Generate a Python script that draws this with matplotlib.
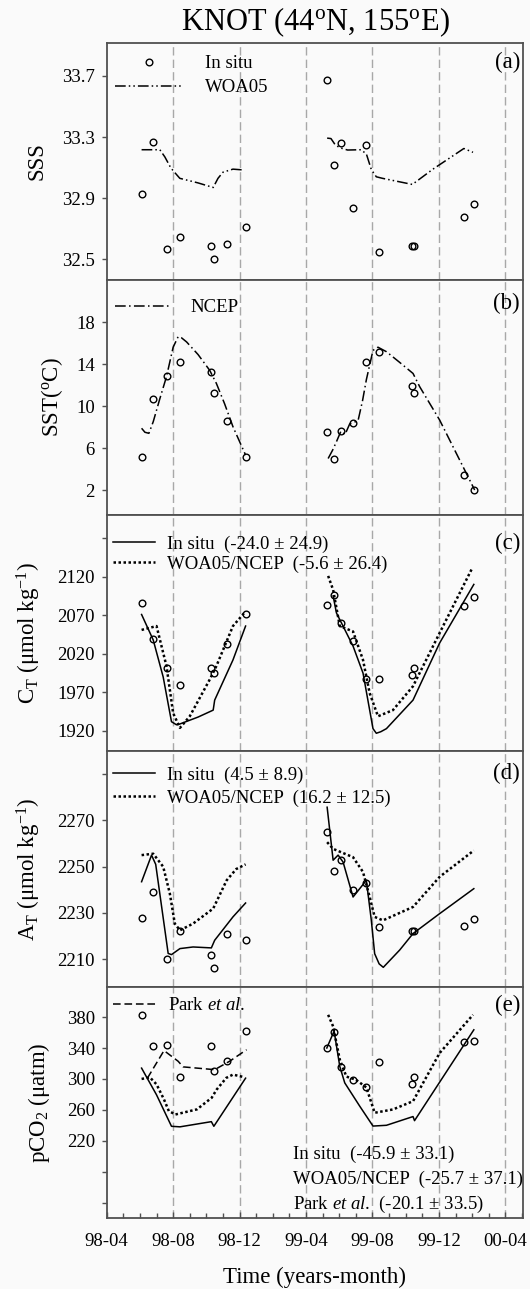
import numpy as np
import matplotlib
matplotlib.use('Agg')
import matplotlib.pyplot as plt
from matplotlib.lines import Line2D

plt.rcParams['font.family'] = ['Liberation Serif', 'DejaVu Serif']
plt.rcParams['mathtext.fontset'] = 'custom'
plt.rcParams['mathtext.rm'] = 'Liberation Serif'
plt.rcParams['mathtext.it'] = 'Liberation Serif:italic'
plt.rcParams['mathtext.bf'] = 'Liberation Serif:bold'

nan = np.nan
# time in months counted from 1998-01 (so 98-04 = 3)
month_ticks = [3, 7, 11, 15, 19, 23, 27]
month_labels = ['98-04', '98-08', '98-12', '99-04', '99-08', '99-12', '00-04']
guide_months = [7, 11, 15, 19, 23, 27]

# sampling dates of the in situ data
t_obs = [5.10, 5.80, 6.65, 7.41, 9.25, 9.43, 10.22, 11.36,
         16.25, 16.69, 17.10, 17.83, 18.63, 19.39, 21.36, 21.52, 24.50, 25.10]

# (a) SSS
sss_obs = [32.93, 33.27, 32.57, 32.645, 32.59, 32.50, 32.60, 32.71,
           33.67, 33.12, 33.26, 32.835, 33.25, 32.55, 32.59, 32.59, 32.78, 32.865]
sss_woa_t = [5.1, 6.2, 6.5, 6.85, 7.0, 7.4, 8.5, 9.41, 9.7, 10.0, 10.6, 11.2, nan,
             16.27, 16.5, 16.75, 17.03, 17.5, 18.3, 18.63, 18.93, 19.23, 19.6, 21.4, 22.64, 24.5, 25.05]
sss_woa = [33.217, 33.217, 33.17, 33.10, 33.08, 33.03, 33.00, 32.97, 33.03, 33.07, 33.09, 33.085, nan,
           33.293, 33.29, 33.25, 33.23, 33.215, 33.217, 33.19, 33.087, 33.04, 33.03, 32.99, 33.09, 33.225, 33.20]

# (b) SST
sst_obs = [5.17, 10.67, 12.86, 14.16, 13.2, 11.2, 8.6, 5.17,
           7.5, 4.95, 7.6, 8.4, 14.16, 15.1, 11.88, 11.24, 3.4, 2.0]
sst_ncep_t = [5.1, 5.3, 5.54, 5.8, 6.2, 6.6, 7.0, 7.3, 7.5, 7.81, 8.5, 9.2, 9.6, 10.1, 10.6, 11.36, nan,
              16.33, 16.6, 16.83, 17.1, 17.35, 17.63, 18.13, 18.4, 18.63, 19.03, 19.33, 19.84, 20.6,
              21.44, 21.84, 23.04, 24.55, 25.15]
sst_ncep = [7.88, 7.5, 7.4, 8.5, 10.7, 12.8, 15.6, 16.6, 16.5, 16.1, 14.9, 13.4, 12.16, 10.2, 8.03, 5.33, nan,
            5.0, 5.8, 6.6, 7.6, 7.3, 8.3, 8.6, 10.5, 12.5, 15.3, 15.6, 15.17, 14.2,
            13.1, 11.84, 8.67, 3.9, 2.0]

# (c) CT
ct_obs = [2086, 2039, 2002, 1980, 2002, 1995, 2033, 2071,
          2083, 2096, 2060, 2036, 1987, 1987, 1993, 2002, 2082, 2094]
ct_insitu_t = [5.1, 5.8, 6.4, 6.9, 7.2, 7.4, 8.5, 9.41, 9.5, 10.6, 11.36, nan,
               16.63, 16.83, 17.83, 18.43, 18.83, 19.03, 19.23, 19.5, 19.84, 21.44, 23.04, 25.1]
ct_insitu = [2071, 2038, 1990, 1932, 1928, 1929, 1938, 1947, 1960, 2012, 2056, nan,
             2095, 2073, 2030, 1995, 1947, 1923, 1917, 1919, 1923, 1960, 2034, 2110]
ct_woa_t = [5.1, 6.0, 6.6, 7.0, 7.41, 8.0, 9.21, 9.6, 10.6, 11.36, nan,
            16.33, 16.63, 17.03, 17.83, 18.43, 18.83, 19.33, 20.23, 21.44, 23.04, 25.0]
ct_woa = [2051, 2056, 2004, 1943, 1924, 1939, 1987, 2004, 2056, 2075, nan,
          2121, 2103, 2056, 2049, 2012, 1969, 1939, 1947, 1978, 2047, 2131]

# (d) AT
at_obs = [2228, 2239, 2210, 2222, 2212, 2206, 2221, 2218.5,
          2265, 2248, 2253, 2240, 2243, 2224, 2222, 2222, 2224.5, 2227.5]
at_insitu_t = [5.1, 5.7, 5.95, 6.7, 6.9, 7.41, 8.2, 9.3, 9.5, 10.6, 11.36, nan,
               16.27, 16.63, 16.93, 17.23, 17.83, 18.63, 18.93, 19.13, 19.4, 19.65, 20.64, 21.44, 23.04, 25.1]
at_insitu = [2243.5, 2255, 2251, 2212.5, 2212, 2214.6, 2215.3, 2214.9, 2218.2, 2228.3, 2234.3, nan,
             2275.7, 2252.8, 2255, 2252, 2236.9, 2244.1, 2226.8, 2212.4, 2208, 2206.5, 2214, 2221.1, 2229.7, 2240.5]
at_woa_t = [5.1, 5.8, 6.4, 6.8, 7.1, 7.41, 8.2, 9.41, 10.22, 10.8, 11.36, nan,
            16.27, 16.63, 17.83, 18.43, 18.83, 19.13, 19.63, 21.44, 23.04, 25.1]
at_woa = [2255, 2255.6, 2250, 2238.4, 2225.4, 2222.5, 2225.4, 2231.9, 2244.1, 2249, 2251, nan,
          2260.6, 2257.7, 2254.1, 2247.7, 2236.9, 2228.3, 2226.8, 2232.6, 2245.6, 2257]

# (e) pCO2
pco2_obs = [383, 342, 343.5, 302, 342, 310, 323, 362.5,
            340, 361, 315.5, 299, 290, 322, 293.5, 302.5, 348, 349.5]
pco2_insitu_t = [5.1, 6.0, 6.9, 7.41, 9.3, 9.45, 11.36, nan,
                 16.25, 16.69, 17.03, 17.33, 18.23, 19.03, 19.84, 21.44, 21.53, 25.1]
pco2_insitu = [314, 279.4, 238.7, 238, 244.7, 238.7, 301, nan,
               340, 362, 316.3, 294.9, 264.8, 239, 240, 251.3, 246, 363.6]
pco2_woa_t = [5.1, 5.6, 6.0, 6.45, 6.74, 7.14, 8.43, 9.32, 9.61, 10.2, 10.6, 11.2, nan,
              16.33, 16.63, 17.03, 17.43, 18.0, 18.63, 19.13, 20.23, 21.44, 23.04, 25.05]
pco2_woa = [300, 302, 293, 273.4, 258.4, 254, 260.6, 275.6, 286, 301.4, 305.6, 302.7, nan,
            383, 368, 325, 303, 299, 289, 256.2, 260.5, 271.2, 333.5, 383]
pco2_park_t = [5.45, 6.45, 7.3, 7.6, 9.5, 10.4, 11.42]
pco2_park = [301, 336.7, 322.9, 315.6, 312, 322.9, 337.8]

# line styles
woa_ls = (0, (7, 2, 1, 2, 1, 2))
ncep_ls = (0, (7, 2.2, 1, 2.2))
dot_ls = (0, (1, 1))
park_ls = (0, (5, 2.5))
obs_kw = dict(ls='none', marker='o', ms=4.8, mfc='none', mec='k', mew=1.0)

W, H = 530, 1289
bg = '#fafafa'
fig = plt.figure(figsize=(W / 100, H / 100), dpi=100, facecolor=bg)
edges = [43, 280, 515, 751, 987, 1218]
x0, x1 = 106.7, 523

axs = []
for i in range(5):
    ax = fig.add_axes([x0 / W, 1 - edges[i + 1] / H, (x1 - x0) / W, (edges[i + 1] - edges[i]) / H])
    ax.set_facecolor(bg)
    ax.set_xlim(3, 28.06)
    for m in guide_months:
        ax.axvline(m, color='#a8a8a8', lw=1.0, ls=(0, (6, 3)), zorder=0)
    for s in ax.spines.values():
        s.set_color('#505050')
        s.set_linewidth(1.3)
    ax.tick_params(axis='y', direction='out', length=3.5, width=1, pad=5, labelsize=13.5, color='#505050')
    ax.tick_params(axis='x', which='both', bottom=False, labelbottom=False)
    axs.append(ax)

ax_a, ax_b, ax_c, ax_d, ax_e = axs

# (a)
ax_a.plot(t_obs, sss_obs, **obs_kw)
ax_a.plot(sss_woa_t, sss_woa, color='k', lw=1.1, ls=woa_ls)
ax_a.set_ylim(32.365, 33.915)
ax_a.set_yticks([32.5, 32.9, 33.3, 33.7])
ax_a.set_yticklabels(['32.5', '32.9', '33.3', '33.7'])
hd = [Line2D([], [], **obs_kw), Line2D([], [], color='k', lw=1.1, ls=woa_ls)]
ax_a.legend(hd, ['In situ', 'WOA05'], loc='upper left', bbox_to_anchor=(0.02, 0.949), frameon=False,
            fontsize=13.5, handlelength=3.6, handletextpad=1.2, labelspacing=0.36,
            borderpad=0, borderaxespad=0)

# (b)
ax_b.plot(t_obs, sst_obs, **obs_kw)
ax_b.plot(sst_ncep_t, sst_ncep, color='k', lw=1.1, ls=ncep_ls)
ax_b.set_ylim(-0.38, 22)
ax_b.set_yticks([2, 6, 10, 14, 18])
hd = [Line2D([], [], color='k', lw=1.1, ls=ncep_ls)]
ax_b.legend(hd, ['NCEP'], loc='upper left', bbox_to_anchor=(0.02, 0.919), frameon=False,
            fontsize=13.5, handlelength=3.0, handletextpad=1.0, borderpad=0, borderaxespad=0)

# (c)
ax_c.plot(t_obs, ct_obs, **obs_kw)
ax_c.plot(ct_insitu_t, ct_insitu, color='k', lw=1.1)
ax_c.plot(ct_woa_t, ct_woa, color='k', lw=1.8, ls=dot_ls)
ax_c.set_ylim(1894, 2200)
ax_c.set_yticks([1920, 1970, 2020, 2070, 2120, 2170])
ax_c.set_yticklabels(['1920', '1970', '2020', '2070', '2120', ''])
hd = [Line2D([], [], color='k', lw=1.1), Line2D([], [], color='k', lw=1.8, ls=dot_ls)]
ax_c.legend(hd, ['In situ  (-24.0 ± 24.9)', 'WOA05/NCEP  (-5.6 ± 26.4)'], loc='upper left',
            bbox_to_anchor=(0.015, 0.913), frameon=False, fontsize=13.5, handlelength=2.25,
            handletextpad=0.62, labelspacing=0.15, borderpad=0, borderaxespad=0)

# (d)
ax_d.plot(t_obs, at_obs, **obs_kw)
ax_d.plot(at_insitu_t, at_insitu, color='k', lw=1.1)
ax_d.plot(at_woa_t, at_woa, color='k', lw=1.8, ls=dot_ls)
ax_d.set_ylim(2198, 2300)
ax_d.set_yticks([2210, 2230, 2250, 2270, 2290])
ax_d.set_yticklabels(['2210', '2230', '2250', '2270', ''])
ax_d.legend(hd, ['In situ  (4.5 ± 8.9)', 'WOA05/NCEP  (16.2 ± 12.5)'], loc='upper left',
            bbox_to_anchor=(0.015, 0.934), frameon=False, fontsize=13.5, handlelength=2.25,
            handletextpad=0.62, labelspacing=0.29, borderpad=0, borderaxespad=0)

# (e)
ax_e.plot(t_obs, pco2_obs, **obs_kw)
ax_e.plot(pco2_insitu_t, pco2_insitu, color='k', lw=1.1)
ax_e.plot(pco2_woa_t, pco2_woa, color='k', lw=1.8, ls=dot_ls)
ax_e.plot(pco2_park_t, pco2_park, color='k', lw=1.1, ls=park_ls)
ax_e.set_ylim(120, 419)
ax_e.set_yticks([140, 180, 220, 260, 300, 340, 380])
ax_e.set_yticklabels(['', '', '220', '260', '300', '340', '380'])
hd = [Line2D([], [], color='k', lw=1.1, ls=park_ls)]
ax_e.legend(hd, [r'Park $\mathit{et\ al}$.'], loc='upper left', bbox_to_anchor=(0.015, 0.956),
            frameon=False, fontsize=13.5, handlelength=2.4, handletextpad=0.55,
            borderpad=0, borderaxespad=0)
stats_e = ['In situ  (-45.9 ± 33.1)', 'WOA05/NCEP  (-25.7 ± 37.1)', r'Park $\mathit{et\ al}$.  (-20.1 ± 33.5)']
for k, s in enumerate(stats_e):
    ax_e.text(0.448, 0.276 - 0.108 * k, s, transform=ax_e.transAxes, fontsize=13.5, va='center', ha='left')

ax_e.set_xticks(month_ticks)
ax_e.set_xticklabels(month_labels)
ax_e.set_xticks(np.arange(3, 29, 1), minor=True)
ax_e.tick_params(axis='x', which='both', bottom=True, labelbottom=True, direction='in',
                 color='#505050', labelsize=13.5, pad=11)
ax_e.tick_params(axis='x', which='major', length=4, width=1)
ax_e.tick_params(axis='x', which='minor', length=3.5, width=1)
ax_e.set_xlabel('Time (years-month)', fontsize=16.5, va='center')
ax_e.xaxis.set_label_coords(0.5, -(1277.5 - 1218) / 231)

# panel letters
for ax, lab, yy in zip(axs, ['(a)', '(b)', '(c)', '(d)', '(e)'], [0.916, 0.90, 0.88, 0.906, 0.92]):
    ax.text(0.993, yy, lab, transform=ax.transAxes, fontsize=16.5, ha='right', va='center')

# y labels
ylabels = ['SSS', 'SST($^\\mathrm{o}$C)', 'C$_\\mathrm{T}$ (μmol kg$^{-1}$)',
           'A$_\\mathrm{T}$ (μmol kg$^{-1}$)', 'pCO$_2$ (μatm)']
ylab_x = [37.5, 52, 29, 29, 39]
for ax, lab, xx in zip(axs, ylabels, ylab_x):
    ax.set_ylabel(lab, fontsize=16.5, va='center', ha='center')
    ax.yaxis.set_label_coords((xx - x0) / (x1 - x0), 0.5)

fig.text(315 / W, 1 - 22 / H, 'KNOT (44$^\\mathrm{o}$N, 155$^\\mathrm{o}$E)', fontsize=22,
         ha='center', va='center')

fig.savefig('out.png', dpi=100, facecolor=bg)
